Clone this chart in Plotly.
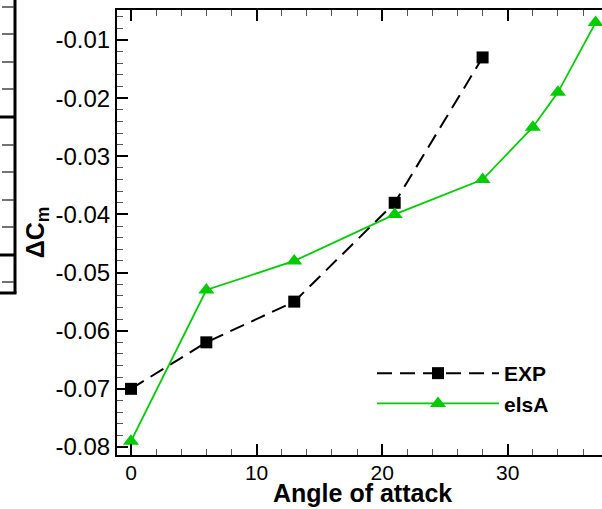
import plotly.graph_objects as go

# Data
exp_aoa = [0, 6, 13, 21, 28]
exp_dcm = [-0.070, -0.062, -0.055, -0.038, -0.013]
elsa_aoa = [0, 6, 13, 21, 28, 32, 34, 37]
elsa_dcm = [-0.079, -0.053, -0.048, -0.040, -0.034, -0.025, -0.019, -0.007]
ytick_vals = [-0.08, -0.07, -0.06, -0.05, -0.04, -0.03, -0.02, -0.01]
ytick_text = ["-0.08", "-0.07", "-0.06", "-0.05", "-0.04", "-0.03", "-0.02", "-0.01"]
xtick_vals = [0, 10, 20, 30]
xtick_text = ["0", "10", "20", "30"]

W, H = 602, 509
L, R, T, B = 117, 0, 10, 54
PW, PH = W - L - R, H - T - B

FONT = "Liberation Sans, Arial, Helvetica, sans-serif"
GREEN = "#00cc00"

fig = go.Figure()
fig.add_trace(go.Scatter(
    x=exp_aoa, y=exp_dcm, name="EXP", mode="lines+markers",
    line=dict(color="black", width=2, dash="15px,8px"),
    marker=dict(symbol="square", size=12, color="black"),
))
fig.add_trace(go.Scatter(
    x=elsa_aoa, y=elsa_dcm, name="elsA", mode="lines+markers",
    line=dict(color=GREEN, width=1.8),
    marker=dict(symbol="triangle-up", size=14, color=GREEN),
))

def px(xp, yp):
    return (xp - L) / PW, (H - B - yp) / PH

shapes = []
# cropped neighbouring axis on the far left
x0, y0 = px(15, 0)
x1, y1 = px(15, 293)
shapes.append(dict(type="line", xref="paper", yref="paper", x0=x0, y0=y0, x1=x1, y1=y1,
                   line=dict(color="black", width=3)))
a0, b0 = px(0, 293)
a1, b1 = px(16.5, 293)
shapes.append(dict(type="line", xref="paper", yref="paper", x0=a0, y0=b0, x1=a1, y1=b1,
                   line=dict(color="black", width=3)))
for yy in [117, 255]:
    a0, b0 = px(0, yy)
    a1, b1 = px(15, yy)
    shapes.append(dict(type="line", xref="paper", yref="paper", x0=a0, y0=b0, x1=a1, y1=b1,
                       line=dict(color="black", width=3)))
for yy in [7, 34, 62, 89, 145, 172, 200, 227, 282]:
    a0, b0 = px(2, yy)
    a1, b1 = px(14, yy)
    shapes.append(dict(type="line", xref="paper", yref="paper", x0=a0, y0=b0, x1=a1, y1=b1,
                       line=dict(color="#444444", width=1.5)))

tx, ty = px(362, 493)
fig.update_layout(
    width=W, height=H,
    margin=dict(l=L, r=R, t=T, b=B, pad=0),
    paper_bgcolor="white", plot_bgcolor="white",
    font=dict(family=FONT, size=22, color="black"),
    shapes=shapes,
    showlegend=True,
    legend=dict(
        x=px(372, 0)[0], y=px(0, 353)[1], xanchor="left", yanchor="top",
        bgcolor="rgba(0,0,0,0)", font=dict(family=FONT, size=21, color="black", weight="bold"),
        itemwidth=122, tracegroupgap=0,
    ),
    annotations=[dict(
        text="<b>Angle of attack</b>", xref="paper", yref="paper", x=tx, y=ty,
        xanchor="center", yanchor="middle", showarrow=False, borderpad=0,
        font=dict(family=FONT, size=25, color="black"),
    )],
    xaxis=dict(
        range=[-1.115, 37.51], showgrid=False, zeroline=False,
        showline=True, linecolor="black", linewidth=2, mirror="allticks",
        ticks="inside", ticklen=11, tickwidth=2, tickcolor="black",
        tickvals=xtick_vals, ticktext=xtick_text,
        tickfont=dict(size=21), ticklabelstandoff=-2,
        minor=dict(dtick=2, tick0=0, ticks="inside", ticklen=6, tickwidth=1, tickcolor="#555555"),
    ),
    yaxis=dict(
        range=[-0.08138, -0.00484], showgrid=False, zeroline=False,
        showline=True, linecolor="black", linewidth=2, mirror=False,
        ticks="inside", ticklen=11, tickwidth=2, tickcolor="black",
        tickvals=ytick_vals, ticktext=ytick_text,
        tickfont=dict(size=24),
        minor=dict(dtick=0.002, tick0=0, ticks="inside", ticklen=6, tickwidth=1, tickcolor="#555555"),
        title=dict(text="<b>ΔC<sub>m</sub></b>", font=dict(size=25), standoff=4),
    ),
)

fig.write_html("out.html")
